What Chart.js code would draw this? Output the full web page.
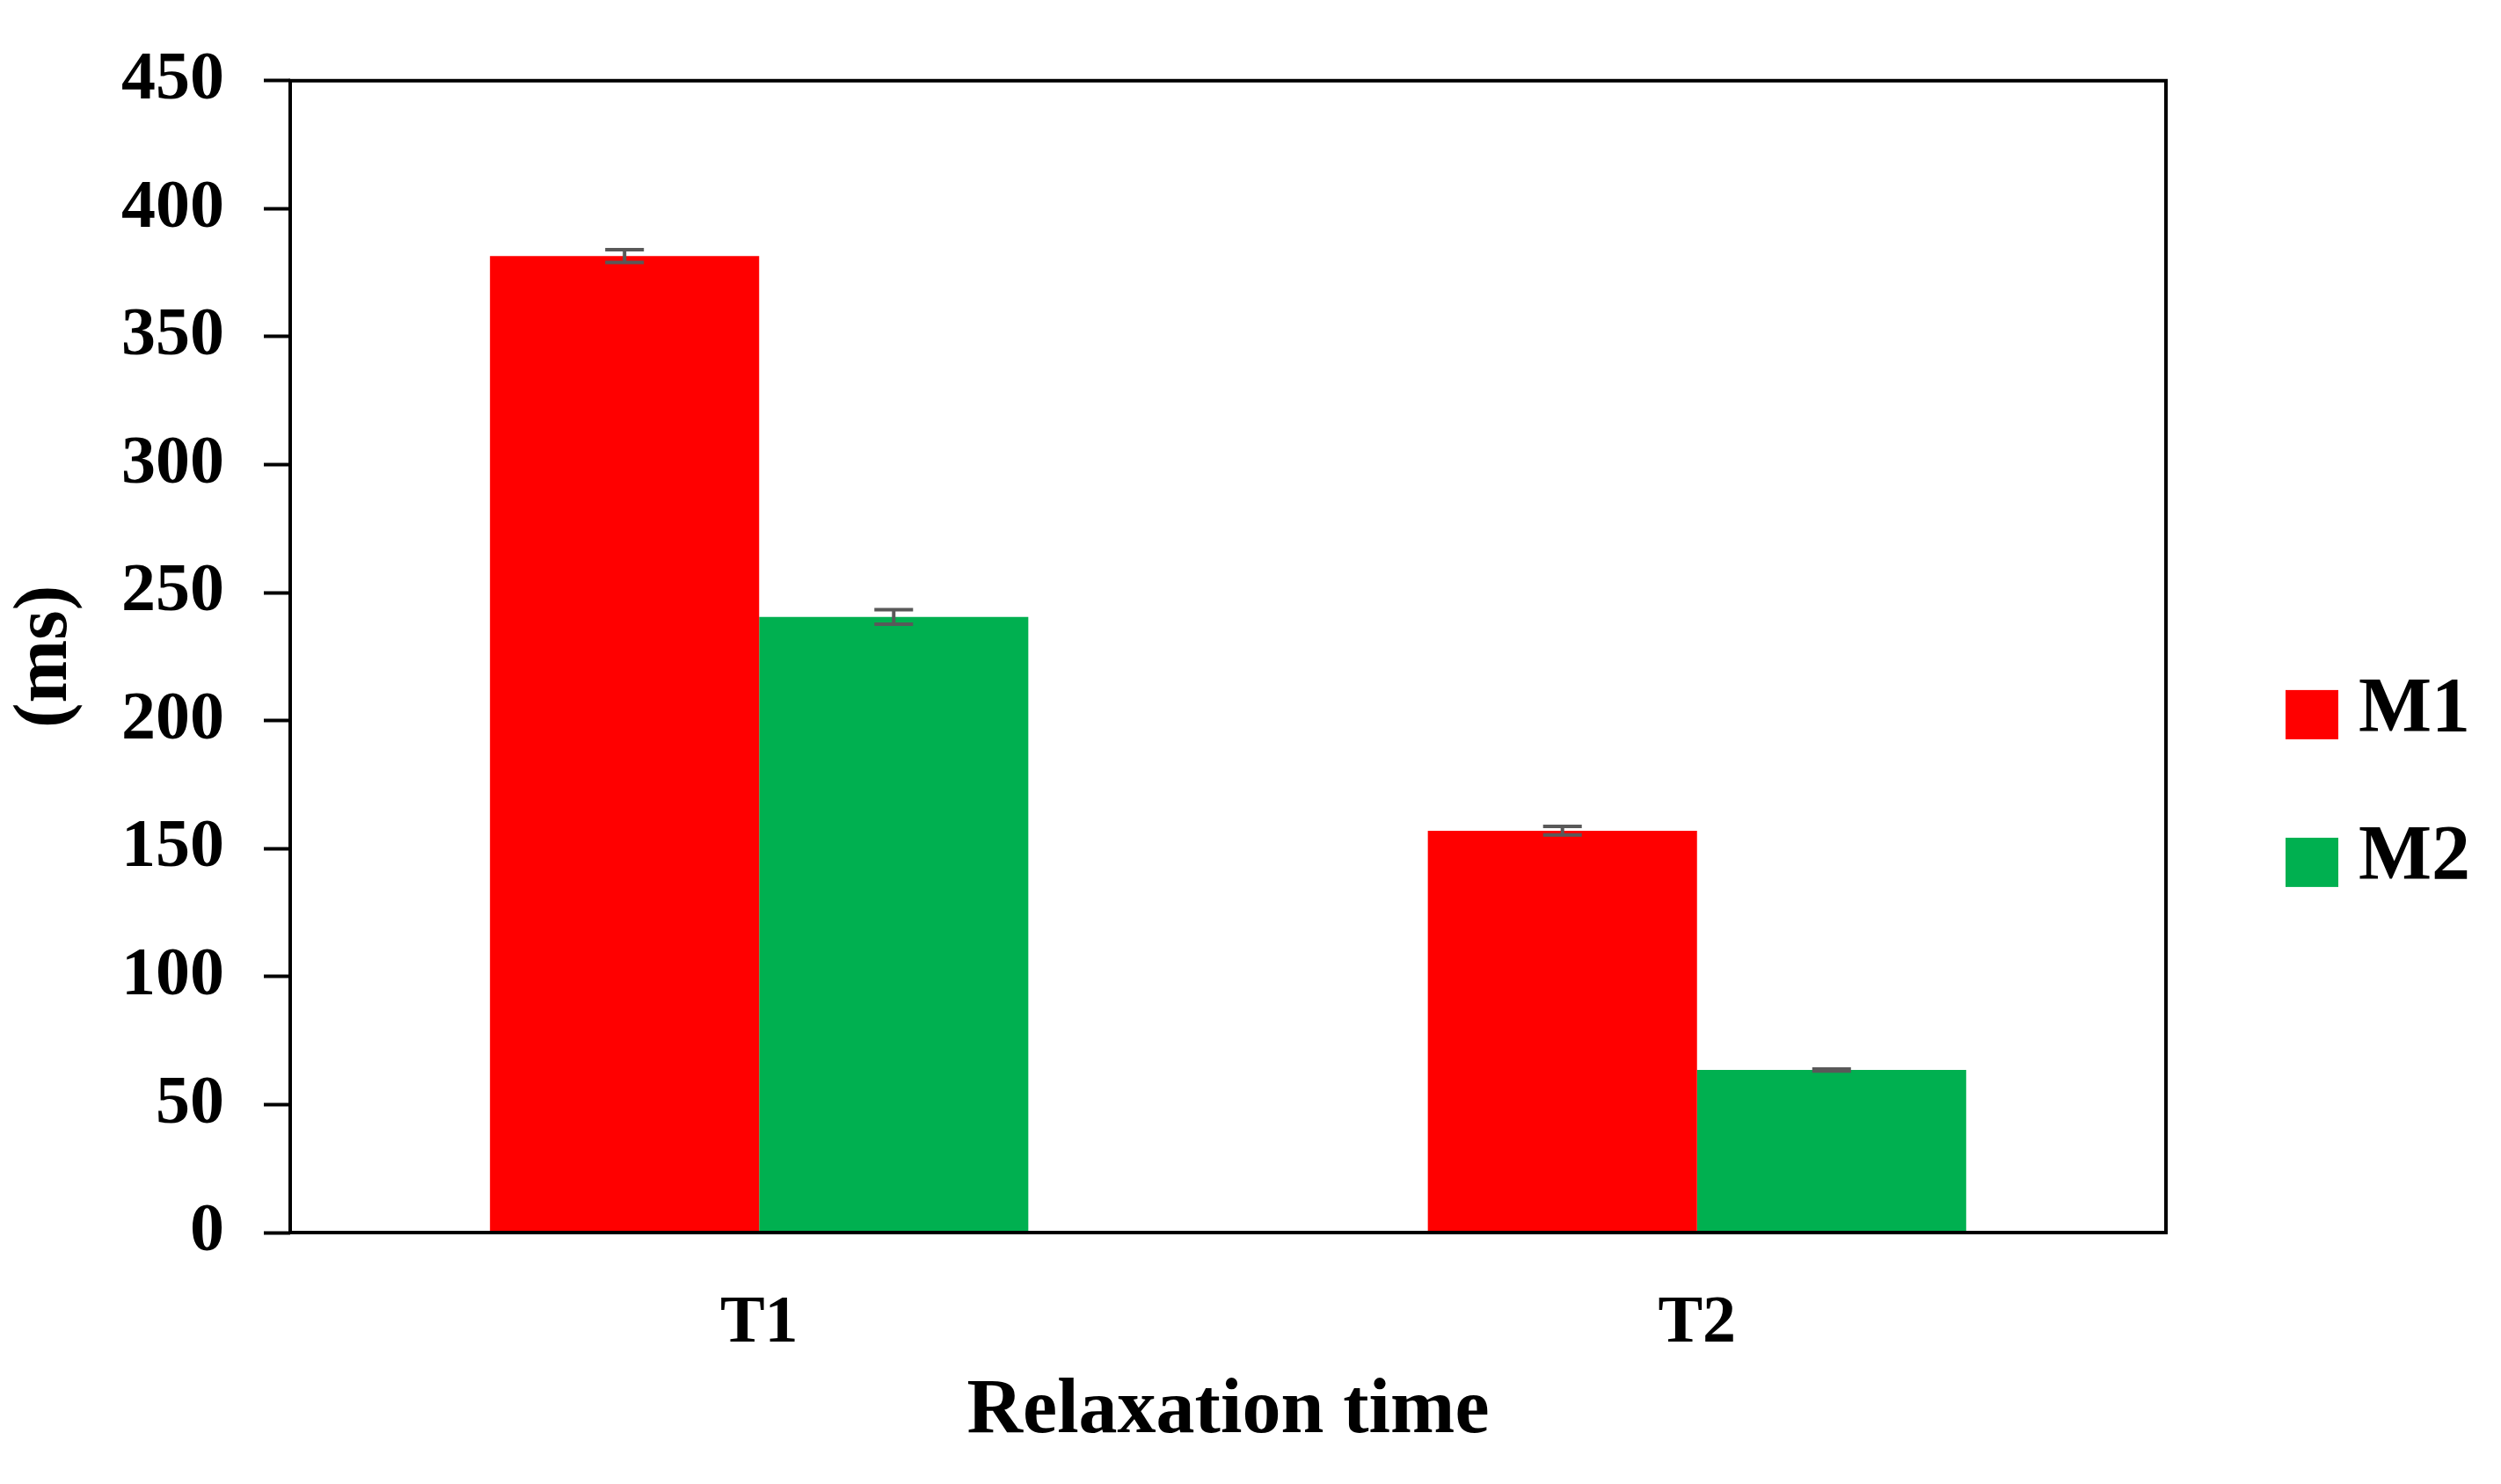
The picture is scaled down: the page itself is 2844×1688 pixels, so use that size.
<!DOCTYPE html>
<html>
<head>
<meta charset="utf-8">
<title>Relaxation time</title>
<script src="https://cdn.jsdelivr.net/npm/chart.js@4.4.1/dist/chart.umd.min.js"></script>
<style>
    html, body { margin: 0; padding: 0; background: #ffffff; }
    #wrap { width: 2844px; height: 1688px; }
</style>
</head>
<body>
<div id="wrap"><canvas id="relaxChart"></canvas></div>
<script>
// Chart data
const categories = ['T1', 'T2'];
const seriesNames = ['M1', 'M2'];
const m1Values = [381.5, 157];
const m2Values = [240.5, 63.5];
const m1Errors = [2.5, 1.7];
const m2Errors = [2.8, 0.4];
const yMin = 0;
const yMax = 450;
const yStep = 50;

const serif = '"Liberation Serif", "Times New Roman", serif';

// Black box round the plot area
const frame = {
    id: 'frame',
    afterDatasetsDraw(chart) {
        const { ctx, chartArea: a } = chart;
        ctx.save();
        ctx.strokeStyle = '#000000';
        ctx.lineWidth = 4;
        ctx.strokeRect(a.left, a.top, a.right - a.left, a.bottom - a.top);
        ctx.restore();
    }
};

// Error bars, placed with the y scale
const errorBars = {
    id: 'errorBars',
    afterDatasetsDraw(chart) {
        const { ctx } = chart;
        const y = chart.scales.y;
        ctx.save();
        ctx.strokeStyle = '#595959';
        ctx.lineWidth = 4;
        chart.data.datasets.forEach((ds, i) => {
            chart.getDatasetMeta(i).data.forEach((bar, j) => {
                const v = ds.data[j];
                const e = ds.errors[j];
                const top = y.getPixelForValue(v + e);
                const bot = y.getPixelForValue(v - e);
                ctx.beginPath();
                ctx.moveTo(bar.x, top);
                ctx.lineTo(bar.x, bot);
                ctx.moveTo(bar.x - 22, top);
                ctx.lineTo(bar.x + 22, top);
                ctx.moveTo(bar.x - 22, bot);
                ctx.lineTo(bar.x + 22, bot);
                ctx.stroke();
            });
        });
        ctx.restore();
    }
};

// Legend on the right, next to the plot
const sideLegend = {
    id: 'sideLegend',
    afterDraw(chart) {
        const { ctx, chartArea: a } = chart;
        const mid = (a.top + a.bottom) / 2;
        ctx.save();
        ctx.font = 'bold 88px ' + serif;
        ctx.textBaseline = 'middle';
        ctx.textAlign = 'left';
        chart.data.datasets.forEach((ds, i) => {
            const cy = mid + 66 + i * 168;
            ctx.fillStyle = ds.backgroundColor;
            ctx.fillRect(a.right + 136, cy - 28, 60, 56);
            ctx.fillStyle = '#000000';
            ctx.fillText(ds.label, a.right + 219, cy - 5);
        });
        ctx.restore();
    }
};

function createChart() {
    const ctx = document.getElementById('relaxChart');

    new Chart(ctx, {
        type: 'bar',
        data: {
            labels: categories,
            datasets: [
                {
                    label: seriesNames[0],
                    data: m1Values,
                    errors: m1Errors,
                    backgroundColor: '#ff0000'
                },
                {
                    label: seriesNames[1],
                    data: m2Values,
                    errors: m2Errors,
                    backgroundColor: '#00b050'
                }
            ]
        },
        options: {
            responsive: true,
            maintainAspectRatio: false,
            animation: false,
            datasets: {
                bar: {
                    barPercentage: 1,
                    categoryPercentage: 0.574
                }
            },
            layout: {
                padding: { top: 87, right: 381, bottom: 0, left: 0 }
            },
            scales: {
                x: {
                    afterFit: (scale) => { scale.height = 286; },
                    grid: { display: false, drawTicks: false },
                    border: { display: false },
                    ticks: {
                        color: '#000000',
                        padding: 59,
                        font: { family: serif, size: 76, weight: 'bold' }
                    },
                    title: {
                        display: true,
                        text: 'Relaxation time',
                        color: '#000000',
                        padding: { top: 0, bottom: 29 },
                        font: { family: serif, size: 88, weight: 'bold' }
                    }
                },
                y: {
                    min: yMin,
                    max: yMax,
                    afterFit: (scale) => { scale.width = 330; },
                    grid: {
                        drawOnChartArea: false,
                        drawTicks: true,
                        tickLength: 30,
                        tickWidth: 4,
                        tickColor: '#000000'
                    },
                    border: { display: false },
                    ticks: {
                        stepSize: yStep,
                        color: '#000000',
                        padding: 45,
                        font: { family: serif, size: 78, weight: 'bold' }
                    },
                    title: {
                        display: true,
                        text: '(ms)',
                        color: '#000000',
                        padding: { top: 1, bottom: 0 },
                        font: { family: serif, size: 86, weight: 'bold' }
                    }
                }
            },
            plugins: {
                legend: { display: false },
                tooltip: { enabled: false }
            }
        },
        plugins: [errorBars, frame, sideLegend]
    });
}

document.addEventListener('DOMContentLoaded', createChart);
</script>
</body>
</html>
